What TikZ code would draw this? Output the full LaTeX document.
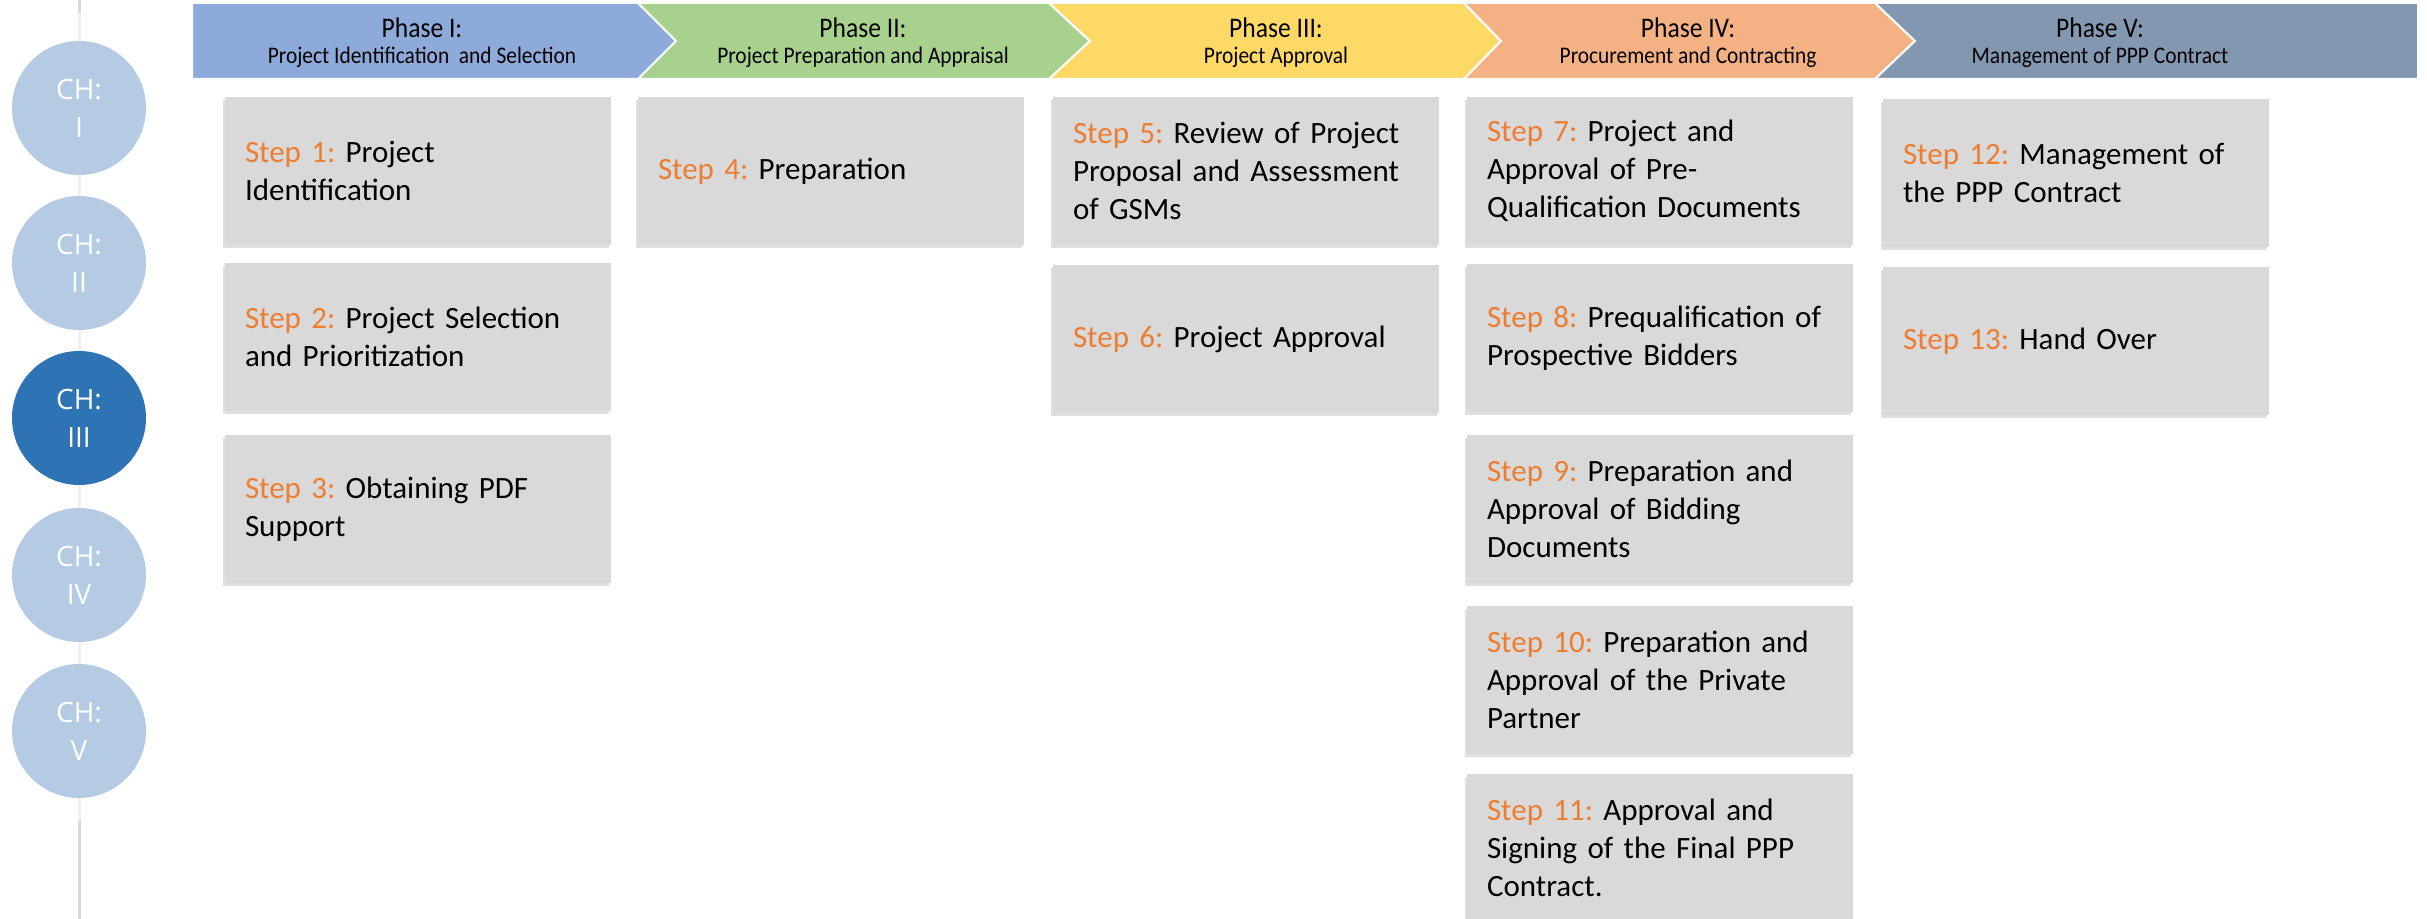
\documentclass[tikz,border=0pt]{standalone}
\usepackage{fontspec}
\setmainfont{Carlito}
\newfontfamily\phasefont[FakeStretch=0.9]{Carlito}
\newfontfamily\chapfont{Open Sans}
\usetikzlibrary{positioning}
\usetikzlibrary{shadows}
\frenchspacing

\definecolor{stepor}{HTML}{ED7D31}
\definecolor{boxgray}{HTML}{D9D9D9}
\definecolor{chlight}{HTML}{B4CBE3}
\definecolor{chdark}{HTML}{2E74B5}
\definecolor{phblue}{HTML}{8EAADB}
\definecolor{phgreen}{HTML}{A9D18E}
\definecolor{phyellow}{HTML}{FFD966}
\definecolor{phorange}{HTML}{F4B183}
\definecolor{phslate}{HTML}{8497B0}

\newcommand\stepno[1]{\textcolor{stepor}{Step #1:}}
\newcommand\phasehead[1]{{\fontsize{14.2}{13}\selectfont #1}}

\begin{document}
\begin{tikzpicture}
[x=0.5pt,y=-0.5pt,
 spine/.style={line width=1.5pt,black!15},
 chap/.style={shape=circle,minimum size=67pt,inner sep=0pt,fill=chlight,text=white,
   align=center,font=\chapfont\fontsize{14}{19}\selectfont},
 curchap/.style={fill=chdark},
 phase/.style={draw=white,line width=1pt},
 phasetext/.style={align=center,font=\phasefont\fontsize{11.9}{13}\selectfont},
 stepbox/.style={shape=rectangle,fill=boxgray,minimum width=193pt,minimum height=74pt,
   text width=173pt,inner xsep=10pt,align=left,font=\fontsize{15.5}{19}\selectfont,
   drop shadow={shadow xshift=-1pt,shadow yshift=-1.5pt,opacity=.12,fill=black}}]

\useasboundingbox (0,0) rectangle (2427,919);

% chapter track
\draw [spine] (79,0) -- (79,919);
\draw [spine,black!6] (79,13) -- (79,821);
\draw (79,108) node (c1) [chap] {CH:\\I};
\draw (79,263) node (c2) [chap] {CH:\\II};
\draw (79,418) node (c3) [chap,curchap] {CH:\\III};
\draw (79,575) node (c4) [chap] {CH:\\IV};
\draw (79,731) node (c5) [chap] {CH:\\V};

% phase header
\filldraw [phase,fill=phblue] (192,3) -- (638,3) -- (676,41) -- (638,79) -- (192,79) -- cycle;
\filldraw [phase,fill=phgreen] (638,3) -- (1049,3) -- (1090,41) -- (1049,79) -- (638,79) -- (676,41) -- cycle;
\filldraw [phase,fill=phyellow] (1049,3) -- (1464,3) -- (1501,41) -- (1464,79) -- (1049,79) -- (1090,41) -- cycle;
\filldraw [phase,fill=phorange] (1464,3) -- (1875,3) -- (1915,41) -- (1875,79) -- (1464,79) -- (1501,41) -- cycle;
\filldraw [phase,fill=phslate] (1875,3) -- (2418,3) -- (2418,79) -- (1875,79) -- (1915,41) -- cycle;

\node (ph1) [phasetext] at (422,43) {\phasehead{Phase I:}\\Project Identification\ \ and Selection};
\node (ph2) [phasetext] at (863,43) {\phasehead{Phase II:}\\Project Preparation and Appraisal};
\node (ph3) [phasetext] at (1276,43) {\phasehead{Phase III:}\\Project Approval};
\node (ph4) [phasetext] at (1688,43) {\phasehead{Phase IV:}\\Procurement and Contracting};
\node (ph5) [phasetext] at (2100,43) {\phasehead{Phase V:}\\Management of PPP Contract};

% phase I
\node (s1) [stepbox] at (418,171) {\stepno{1} Project\\Identification};
\node (s2) [stepbox] at (418,337) {\stepno{2} Project Selection\\and Prioritization};
\node (s3) [stepbox] at (418,509) {\stepno{3} Obtaining PDF\\Support};

% phase II
\node (s4) [stepbox] at (831,171) {\stepno{4} Preparation};

% phase III
\node (s5) [stepbox] at (1246,171) {\stepno{5} Review of Project\\Proposal and Assessment\\of GSMs};
\node (s6) [stepbox] at (1246,339) {\stepno{6} Project Approval};

% phase IV
\node (s7) [stepbox] at (1660,171) {\stepno{7} Project and\\Approval of Pre-\\Qualification Documents};
\node (s8) [stepbox] at (1660,338) {\stepno{8} Prequalification of\\Prospective Bidders};
\node (s9) [stepbox] at (1660,509) {\stepno{9} Preparation and\\Approval of Bidding\\Documents};
\node (s10) [stepbox] at (1660,680) {\stepno{10} Preparation and\\Approval of the Private\\Partner};
\node (s11) [stepbox] at (1660,848) {\stepno{11} Approval and\\Signing of the Final PPP\\Contract.};

% phase V
\node (s12) [stepbox] at (2076,173) {\stepno{12} Management of\\the PPP Contract};
\node (s13) [stepbox] at (2076,341) {\stepno{13} Hand Over};

\end{tikzpicture}
\end{document}
